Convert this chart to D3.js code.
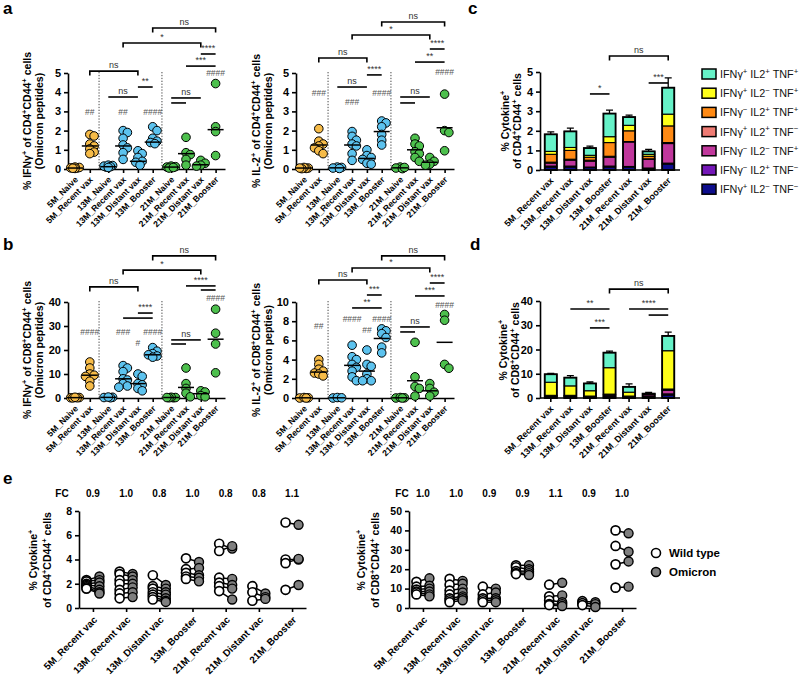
<!DOCTYPE html>
<html><head><meta charset="utf-8">
<script src="https://cdn.jsdelivr.net/npm/d3@7"></script>
<style>body{margin:0;background:#fff;}</style>
</head><body>
<script>
// ================= DATA =================
const scatterCats = ["5M_Naive","5M_Recent vax","13M_Naive","13M_Recent vax","13M_Distant vax","13M_Booster","21M_Naive","21M_Recent vax","21M_Distant vax","21M_Booster"];
const scatterGroup = [0,0,1,1,1,1,2,2,2,2];
const groupColors = ["#F6BB48","#5CC2EE","#4DC04D"];

// panel a, left: % IFNγ+ of CD4+CD44+ cells
const aIfng = [
  [0.05,0.08,0.1,0.03,0.06,0.04],
  [1.8,1.72,1.3,1.2,1.05,0.88,0.8],
  [0.1,0.15,0.2,0.18,0.12,0.08],
  [2.0,1.9,1.6,1.25,1.1,0.85,0.5],
  [0.95,0.8,0.6,0.4,0.35,0.2],
  [2.2,2.0,1.6,1.45,1.38,1.32],
  [0.1,0.15,0.05,0.12,0.08],
  [1.65,0.85,0.75,0.5,0.2],
  [0.45,0.3,0.2,0.15],
  [4.45,2.2,1.95,0.7]
];
const aIfngLine = [0.05,1.2,0.12,1.2,0.4,1.4,0.1,0.8,0.22,2.05];
const aIfngMarks = [{cat:1,text:"##",y:2.97},{cat:3,text:"##",y:2.97},{cat:5,text:"####",y:2.97},{cat:9,text:"####",y:5.0}];
const aIfngBrackets = [
  {from:5,to:9,y:7.34,label:"ns",ends:true},
  {from:3,to:8,y:6.56,label:"*",ends:true},
  {from:8,to:9,y:5.99,label:"****",ends:false},
  {from:7,to:9,y:5.36,label:"***",ends:false},
  {from:1,to:4,y:5.10,label:"ns",ends:true},
  {from:4,to:5,y:4.27,label:"**",ends:false},
  {from:2,to:4,y:3.75,label:"ns",ends:false},
  {from:6,to:8,y:3.70,label:"ns",ends:false},
  {from:6,to:7,y:3.44,label:"",ends:false}
];

// panel a, right: % IL-2+ of CD4+CD44+ cells
const aIl2 = [
  [0.05,0.03,0.08,0.02,0.05],
  [2.1,1.45,1.3,1.2,1.1,0.95,0.8],
  [0.1,0.05,0.08,0.03],
  [1.95,1.7,1.5,1.3,1.2,0.8,0.45],
  [1.0,0.7,0.6,0.5,0.3,0.25],
  [2.5,2.4,2.2,1.8,1.5,1.25],
  [0.1,0.05,0.02,0.08],
  [1.6,1.3,1.2,0.9,0.8,0.6,0.4],
  [0.6,0.4,0.25,0.2],
  [3.9,2.0,1.9,0.95]
];
const aIl2Line = [0.05,1.25,0.06,1.25,0.55,1.95,0.06,1.0,0.35,2.15];
const aIl2Marks = [{cat:1,text:"###",y:3.96},{cat:3,text:"###",y:3.49},{cat:5,text:"####",y:3.96},{cat:9,text:"####",y:5.05}];
const aIl2Brackets = [
  {from:5,to:9,y:7.66,label:"ns",ends:true},
  {from:3,to:8,y:6.98,label:"*",ends:true},
  {from:8,to:9,y:6.25,label:"****",ends:false},
  {from:1,to:4,y:5.78,label:"ns",ends:true},
  {from:7,to:9,y:5.57,label:"**",ends:false},
  {from:4,to:5,y:4.90,label:"****",ends:false},
  {from:2,to:4,y:4.27,label:"ns",ends:false},
  {from:6,to:8,y:3.75,label:"ns",ends:false},
  {from:6,to:7,y:3.44,label:"",ends:false}
];

// panel b, left: % IFNγ+ of CD8+CD44+ cells
const bIfng = [
  [0.1,0.2,0.1,0.05,0.3],
  [15,12.5,10,9.5,9,7,5],
  [0.2,0.3,0.1,0.4],
  [13.5,12.5,11,8,7.5,6,5,4.5],
  [10,9,6,5.5,4,3],
  [21,19.5,18.5,18,17.5,17],
  [0.1,0.2,0.3,0.1,0.2],
  [12.5,6,4,2,0.5],
  [3,2.5,1,0.5],
  [37,27,22.5,10.5]
];
const bIfngLine = [0.15,9.5,0.25,8,6,18,0.2,4.4,1.8,24.5];
const bIfngMarks = [{cat:1,text:"####",y:27.5},{cat:3,text:"###",y:27.5},{cat:4,text:"#",y:22.9},{cat:5,text:"####",y:27.5},{cat:9,text:"####",y:41.7}];
const bIfngBrackets = [
  {from:5,to:9,y:59.2,label:"ns",ends:true},
  {from:3,to:8,y:53.3,label:"*",ends:true},
  {from:1,to:4,y:46.3,label:"ns",ends:true},
  {from:7,to:9,y:46.7,label:"****",ends:false},
  {from:8,to:9,y:45.0,label:"",ends:false},
  {from:4,to:5,y:35.4,label:"****",ends:false},
  {from:3,to:5,y:33.3,label:"",ends:false},
  {from:6,to:8,y:24.2,label:"ns",ends:false},
  {from:6,to:7,y:22.5,label:"",ends:false}
];

// panel b, right: % IL-2+ of CD8+CD44+ cells
const bIl2 = [
  [0,0.02,0.05,0],
  [4.0,3.5,3.0,2.8,2.6,2.5,2.3],
  [0,0.05,0.02],
  [5.5,4.3,4.0,3.5,3.2,2.8,2.2,1.8],
  [5.0,3.5,3.3,2.5,2.0,1.8,1.8],
  [7.2,7.0,6.7,6.3,5.3,4.7],
  [0,0.02,0.05,0],
  [5.8,2.2,1.2,1.0,0.2],
  [1.5,1.0,0.6,0.2],
  [8.7,8.1,3.5,3.1]
];
const bIl2Line = [0.02,2.7,0.02,3.4,2.8,6.2,0.02,1.8,0.75,5.8];
const bIl2Marks = [{cat:1,text:"##",y:7.5},{cat:3,text:"####",y:8.23},{cat:4,text:"##",y:7.08},{cat:5,text:"####",y:8.23},{cat:9,text:"####",y:9.69}];
const bIl2Brackets = [
  {from:5,to:9,y:14.8,label:"ns",ends:true},
  {from:3,to:8,y:13.54,label:"*",ends:true},
  {from:1,to:4,y:12.29,label:"ns",ends:true},
  {from:8,to:9,y:11.98,label:"****",ends:false},
  {from:7,to:9,y:10.63,label:"***",ends:false},
  {from:4,to:5,y:10.73,label:"***",ends:false},
  {from:3,to:5,y:9.38,label:"**",ends:false},
  {from:6,to:8,y:7.4,label:"ns",ends:false},
  {from:6,to:7,y:6.88,label:"",ends:false}
];

// panels c / d: stacked cytokine combinations
const barCats = ["5M_Recent vax","13M_Recent vax","13M_Distant vax","13M_Booster","21M_Recent vax","21M_Distant vax","21M_Booster"];
const comboNames = ["IFNγ^+ IL2^+ TNF^+","IFNγ^+ IL2^- TNF^+","IFNγ^- IL2^+ TNF^+","IFNγ^+ IL2^+ TNF^-","IFNγ^- IL2^- TNF^+","IFNγ^- IL2^+ TNF^-","IFNγ^+ IL2^- TNF^-"];
const comboColors = ["#66F2C8","#FFFF1A","#FF8A14","#EE7B74","#C0379C","#7417B8","#0D0D8C"];
const cd4PPP = [0.87,0.82,0.37,1.18,0.42,0.15,1.35];
const cd4PNP = [0.15,0.15,0.10,0.30,0.28,0.10,0.60];
const cd4NPP = [0.40,0.45,0.15,0.70,0.55,0.13,0.85];
const cd4PPN = [0.05,0.05,0.05,0.05,0.02,0.02,0.05];
const cd4NNP = [0.15,0.30,0.30,0.45,1.25,0.45,1.00];
const cd4NPN = [0.05,0.05,0.03,0.05,0.03,0.02,0.05];
const cd4PNN = [0.15,0.15,0.12,0.15,0.15,0.08,0.30];
const cd4Err = [0.13,0.17,0.10,0.17,0.10,0.10,0.50];
const cd8PPP = [3.3,3.4,3.0,6.2,2.2,0.0,6.1];
const cd8PNP = [5.4,3.9,2.2,10.9,1.6,0.1,15.8];
const cd8NPP = [0.1,0.1,0.1,0.2,0.1,0.1,0.3];
const cd8PPN = [0.1,0.1,0.1,0.1,0.1,0.2,0.2];
const cd8NNP = [0.3,0.3,0.2,0.5,0.2,0.6,1.5];
const cd8NPN = [0.2,0.2,0.1,0.3,0.1,0.3,0.5];
const cd8PNN = [0.4,0.4,0.3,0.5,0.3,0.5,1.2];
const cd8Err = [0.3,0.8,0.6,0.6,1.2,0.5,1.6];
const cBrackets = [
  {from:3,to:6,y:5.82,label:"ns",ends:true},
  {from:5,to:6,y:4.44,label:"***",ends:false},
  {from:2,to:3,y:3.88,label:"*",ends:false}
];
const dBrackets = [
  {from:3,to:6,y:44.9,label:"ns",ends:true},
  {from:1,to:3,y:36.7,label:"**",ends:false},
  {from:4,to:6,y:36.7,label:"****",ends:false},
  {from:5,to:6,y:34.2,label:"",ends:false},
  {from:2,to:3,y:28.9,label:"***",ends:false}
];

// panel e: paired wild type vs omicron
const eCats = ["5M_Recent vac","13M_Recent vac","13M_Distant vac","13M_Booster","21M_Recent vac","21M_Distant vac","21M_Booster"];
const eCd4Wt = [
  [2.3,2.2,2.0,1.9,1.8,1.7,1.6],
  [3.0,2.8,2.3,2.0,1.5,1.2,0.8],
  [2.7,1.8,1.6,1.3,1.1,0.9,0.7],
  [4.1,3.2,2.9,2.6,2.4],
  [5.3,4.7,2.5,2.1,1.8,1.4],
  [1.8,1.3,0.6],
  [7.05,4.0,3.7,1.5]
];
const eCd4Om = [
  [2.6,2.3,2.1,1.8,1.5,1.3,1.2],
  [2.8,2.6,2.3,2.0,1.7,1.3,0.9],
  [1.9,1.6,1.3,1.1,0.8,0.6,0.5],
  [3.8,3.3,2.7,2.5,2.2],
  [4.9,5.1,2.4,1.9,1.6,0.7],
  [1.2,0.9,0.75],
  [6.86,4.0,4.05,1.9]
];
const eCd8Wt = [
  [13.5,11,9.5,8.5,8,7],
  [15,12,9,7,5,4,3],
  [11,7,5,4,3],
  [22,21,19,18,17.5],
  [12,6,4,2,1.5],
  [3.5,2.5,1.5],
  [40,32,22.5,10.5]
];
const eCd8Om = [
  [15.3,11.5,10,8.5,7,6],
  [14,12.5,10,8,6,5,4],
  [10,8,5,4,3],
  [22,20,19,18,17],
  [13,6.5,3,2,1],
  [3,2,0.5],
  [38.5,29,24,11]
];
const eCd4Fc = ["0.9","1.0","0.8","1.0","0.8","0.8","1.1"];
const eCd8Fc = ["1.0","1.0","0.9","0.9","1.1","0.9","1.0"];

// ================= DRAWING =================
const FONT = '"Liberation Sans", Arial, Helvetica, sans-serif';
const svg = d3.select('body').append('svg').attr('width',800).attr('height',678)
  .style('font-family',FONT).style('background','#fff');
const fmtInt = d3.format('d');

function rich(sel, str, fs){
  const parts = str.split(/(\^[+-])/).filter(p=>p!=='');
  let pend = 0;
  parts.forEach(p=>{
    if(p[0]==='^'){
      sel.append('tspan').attr('dy',pend - fs*0.38).attr('font-size',fs*0.72).text(p[1]==='+'?'+':'−');
      pend = fs*0.38;
    } else {
      sel.append('tspan').attr('dy',pend).attr('font-size',fs).text(p);
      pend = 0;
    }
  });
}
function yLabel(lines, xs, yc, fs){
  lines.forEach((l,i)=>{
    const t = svg.append('text').attr('transform',`translate(${xs[i]},${yc}) rotate(-90)`)
      .attr('text-anchor','middle').attr('font-weight','bold').attr('font-size',fs).attr('fill','#000');
    rich(t,l,fs);
  });
}
function styleAxis(g, fs){
  g.attr('font-family',FONT).attr('font-size',fs);
  g.selectAll('path,line').attr('stroke','#000').attr('stroke-width',1.6);
  g.selectAll('text').attr('fill','#000').attr('font-weight','bold');
}
function drawBrackets(g, list, xf, y){
  list.forEach(b=>{
    const x1 = xf(b.from), x2 = xf(b.to), yy = y(b.y);
    const d = b.ends ? `M${x1},${yy+4.5}V${yy}H${x2}V${yy+4.5}` : `M${x1},${yy}H${x2}`;
    g.append('path').attr('d',d).attr('fill','none').attr('stroke','#000').attr('stroke-width',1.6);
    if(b.label) g.append('text').attr('x',(x1+x2)/2).attr('y',yy-3).attr('text-anchor','middle')
      .attr('font-size',9).attr('fill','#333').text(b.label);
  });
}
// deterministic horizontal spreading of overlapping points (layout only)
function swarm(vals, ypix, r){
  const order = vals.map((v,i)=>i).sort((a,b)=>vals[b]-vals[a]);
  const placed = [], offs = new Array(vals.length).fill(0);
  const dmin = r*1.05, step = r*0.5, lim = r*1.35;
  order.forEach(i=>{
    const py = ypix(vals[i]);
    let best = null, bestD = -1;
    for(let k=0;k<20;k++){
      const c = k===0 ? 0 : (k%2 ? 1 : -1)*Math.ceil(k/2)*step;
      if(Math.abs(c) > lim) break;
      const md = placed.length ? d3.min(placed, p=>Math.hypot(p.x-c,p.y-py)) : 99;
      if(md >= dmin){ best = c; break; }
      if(md > bestD){ bestD = md; best = c; }
    }
    offs[i] = best; placed.push({x:best,y:py});
  });
  return offs;
}

function scatterPanel(cfg, series, lineVals, marks, brackets){
  const g = svg.append('g');
  const unit = 14.8;
  const slots = scatterCats.map((c,i)=> i + scatterGroup[i]*0.25);
  const x = d3.scaleLinear().domain([(cfg.x0-cfg.p0)/unit, 150/unit]).range([cfg.x0, cfg.p0+150]);
  const y = d3.scaleLinear().domain([0,cfg.ymax]).range([cfg.y0,cfg.yTop]);
  [(slots[1]+slots[2])/2, (slots[5]+slots[6])/2].forEach(s=>{
    g.append('line').attr('x1',x(s)).attr('x2',x(s)).attr('y1',cfg.y0).attr('y2',cfg.yTop-1)
      .attr('stroke','#333').attr('stroke-width',0.9).attr('stroke-dasharray','1.3,1.6');
  });
  const gy = g.append('g').attr('transform',`translate(${cfg.x0},0)`)
    .call(d3.axisLeft(y).tickValues(cfg.ticks).tickFormat(fmtInt).tickSize(4).tickSizeOuter(0));
  styleAxis(gy, 11);
  const gx = g.append('g').attr('transform',`translate(0,${cfg.y0})`)
    .call(d3.axisBottom(x).tickValues(slots).tickFormat((d,i)=>scatterCats[i]).tickSize(4).tickSizeOuter(0));
  styleAxis(gx, 8.6);
  gx.selectAll('text').attr('x',0).attr('y',0).attr('dy','0.35em')
    .attr('transform','translate(1,9) rotate(-45)').attr('text-anchor','end');
  const r = 4.3;
  series.forEach((vals,i)=>{
    const offs = swarm(vals, y, r);
    g.selectAll(null).data(vals).join('circle')
      .attr('cx',(d,j)=>x(slots[i])+offs[j]).attr('cy',d=>y(d)).attr('r',r)
      .attr('fill',groupColors[scatterGroup[i]]).attr('stroke','#000').attr('stroke-width',1);
    g.append('line').attr('x1',x(slots[i])-8).attr('x2',x(slots[i])+8)
      .attr('y1',y(lineVals[i])).attr('y2',y(lineVals[i])).attr('stroke','#000').attr('stroke-width',1.5);
  });
  marks.forEach(m=>{
    g.append('text').attr('x',x(slots[m.cat])).attr('y',y(m.y)).attr('dy','0.35em')
      .attr('text-anchor','middle').attr('font-size',8.5).attr('fill','#555').text(m.text);
  });
  drawBrackets(g, brackets, i=>x(slots[i]), y);
}

function barPanel(cfg, layers, errs, brackets){
  const g = svg.append('g');
  const x = d3.scaleBand().domain(barCats).range([cfg.x0+1, cfg.x0+138]).paddingInner(0.38).paddingOuter(0.19);
  const y = d3.scaleLinear().domain([0,cfg.ymax]).range([cfg.y0,cfg.yTop]);
  const keys = d3.range(layers.length).reverse().map(String);
  const table = barCats.map((c,i)=>{ const row={cat:c}; layers.forEach((arr,k)=>row[k]=arr[i]); return row; });
  const stacked = d3.stack().keys(keys)(table);
  stacked.forEach(layer=>{
    const k = +layer.key;
    g.selectAll(null).data(layer).join('rect')
      .attr('x',d=>x(d.data.cat)).attr('width',x.bandwidth())
      .attr('y',d=>y(d[1])).attr('height',d=>Math.max(0,y(d[0])-y(d[1])))
      .attr('fill',comboColors[k]).attr('stroke','#000').attr('stroke-width',1.1);
  });
  const totals = table.map(r=>d3.sum(layers.map((a,k)=>r[k])));
  totals.forEach((t,i)=>{
    const cx = x(barCats[i]) + x.bandwidth()/2;
    g.append('rect').attr('x',x(barCats[i])).attr('width',x.bandwidth()).attr('y',y(t)).attr('height',y(0)-y(t))
      .attr('fill','none').attr('stroke','#000').attr('stroke-width',1.8);
    g.append('path').attr('d',`M${cx},${y(t)}V${y(t+errs[i])}M${cx-3.5},${y(t+errs[i])}H${cx+3.5}`)
      .attr('stroke','#000').attr('stroke-width',1.3).attr('fill','none');
  });
  const gy = g.append('g').attr('transform',`translate(${cfg.x0},0)`)
    .call(d3.axisLeft(y).tickValues(cfg.ticks).tickFormat(fmtInt).tickSize(4).tickSizeOuter(0));
  styleAxis(gy, 11);
  const gx = g.append('g').attr('transform',`translate(0,${cfg.y0})`)
    .call(d3.axisBottom(x).tickSize(4).tickSizeOuter(0));
  styleAxis(gx, 9);
  gx.select('.domain').attr('d',`M${cfg.x0},0H${cfg.x0+140}`);
  gx.selectAll('text').attr('x',0).attr('y',0).attr('dy','0.35em')
    .attr('transform','translate(1,9) rotate(-45)').attr('text-anchor','end');
  drawBrackets(g, brackets, i=>x(barCats[i])+x.bandwidth()/2, y);
}

function pairPanel(cfg, wt, om, fc){
  const g = svg.append('g');
  const x = d3.scalePoint().domain(eCats).range([cfg.x0, cfg.x0+227]).padding(0.42);
  const y = d3.scaleLinear().domain([0,cfg.ymax]).range([cfg.y0,cfg.yTop]);
  const gy = g.append('g').attr('transform',`translate(${cfg.x0},0)`)
    .call(d3.axisLeft(y).tickValues(cfg.ticks).tickFormat(fmtInt).tickSize(4).tickSizeOuter(0));
  styleAxis(gy, 10.5);
  const gx = g.append('g').attr('transform',`translate(0,${cfg.y0})`)
    .call(d3.axisBottom(x).tickSize(4).tickSizeOuter(0));
  styleAxis(gx, 9.8);
  gx.selectAll('text').attr('x',0).attr('y',0).attr('dy','0.35em')
    .attr('transform','translate(2,10) rotate(-45)').attr('text-anchor','end');
  const dx = 6.5;
  eCats.forEach((c,i)=>{
    const cx = x(c);
    wt[i].forEach((v,j)=>{
      g.append('line').attr('x1',cx-dx).attr('x2',cx+dx).attr('y1',y(v)).attr('y2',y(om[i][j]))
        .attr('stroke','#000').attr('stroke-width',1.5);
    });
    g.selectAll(null).data(om[i]).join('circle').attr('cx',cx+dx).attr('cy',d=>y(d)).attr('r',4.5)
      .attr('fill','#7f7f7f').attr('stroke','#000').attr('stroke-width',1.4);
    g.selectAll(null).data(wt[i]).join('circle').attr('cx',cx-dx).attr('cy',d=>y(d)).attr('r',4.5)
      .attr('fill','#fff').attr('stroke','#000').attr('stroke-width',1.7);
    g.append('text').attr('x',cx).attr('y',cfg.fcY).attr('text-anchor','middle')
      .attr('font-size',10).attr('font-weight','bold').text(fc[i]);
  });
  g.append('text').attr('x',cfg.fcX).attr('y',cfg.fcY).attr('text-anchor','middle')
    .attr('font-size',10).attr('font-weight','bold').text('FC');
}

// ---- panels ----
scatterPanel({x0:68,p0:75,y0:169,yTop:73,ymax:5,ticks:[0,1,2,3,4,5]}, aIfng, aIfngLine, aIfngMarks, aIfngBrackets);
scatterPanel({x0:296,p0:304,y0:169,yTop:73,ymax:5,ticks:[0,1,2,3,4,5]}, aIl2, aIl2Line, aIl2Marks, aIl2Brackets);
scatterPanel({x0:68,p0:75,y0:398,yTop:302,ymax:40,ticks:[0,10,20,30,40]}, bIfng, bIfngLine, bIfngMarks, bIfngBrackets);
scatterPanel({x0:296,p0:304,y0:398,yTop:302,ymax:10,ticks:[0,2,4,6,8,10]}, bIl2, bIl2Line, bIl2Marks, bIl2Brackets);

barPanel({x0:540,y0:170,yTop:72,ymax:5,ticks:[0,1,2,3,4,5]},
  [cd4PPP,cd4PNP,cd4NPP,cd4PPN,cd4NNP,cd4NPN,cd4PNN], cd4Err, cBrackets);
barPanel({x0:540,y0:398,yTop:301,ymax:40,ticks:[0,10,20,30,40]},
  [cd8PPP,cd8PNP,cd8NPP,cd8PPN,cd8NNP,cd8NPN,cd8PNN], cd8Err, dBrackets);

pairPanel({x0:79,y0:608,yTop:511,ymax:8,ticks:[0,2,4,6,8],fcX:62,fcY:497}, eCd4Wt, eCd4Om, eCd4Fc);
pairPanel({x0:409,y0:608,yTop:511,ymax:50,ticks:[0,10,20,30,40,50],fcX:402,fcY:497}, eCd8Wt, eCd8Om, eCd8Fc);

// axis titles
yLabel(["% IFNγ^+ of CD4^+CD44^+ cells","(Omicron peptides)"],[31,43],121,10.5);
yLabel(["% IL-2^+ of CD4^+CD44^+ cells","(Omicron peptides)"],[260,272],121,10.5);
yLabel(["% IFNγ^+ of CD8^+CD44^+ cells","(Omicron peptides)"],[31,43],350,10.5);
yLabel(["% IL-2^+ of CD8^+CD44^+ cells","(Omicron pepties)"],[260,272],350,10.5);
yLabel(["% Cytokine^+","of CD4^+CD44^+ cells"],[509,521],121,10.5);
yLabel(["% Cytokine^+","of CD8^+CD44^+ cells"],[507,519],350,10.5);
yLabel(["% Cytokine^+","of CD4^+CD44^+ cells"],[37,51],560,10.5);
yLabel(["% Cytokine^+","of CD8^+CD44^+ cells"],[365,379],560,10.5);

// legend c
comboNames.forEach((n,i)=>{
  const yy = 74 + i*19.2;
  svg.append('rect').attr('x',702).attr('y',yy-5).attr('width',14).attr('height',10)
    .attr('fill',comboColors[i]).attr('stroke','#000').attr('stroke-width',1.5);
  const t = svg.append('text').attr('x',720).attr('y',yy+4).attr('font-size',10.8).attr('fill','#111');
  rich(t,n,10.8);
});
// legend e
[["Wild type","#fff"],["Omicron","#7f7f7f"]].forEach((d,i)=>{
  const yy = 553 + i*19;
  svg.append('circle').attr('cx',656).attr('cy',yy).attr('r',4.5).attr('fill',d[1]).attr('stroke','#000').attr('stroke-width',1.6);
  svg.append('text').attr('x',669).attr('y',yy+4).attr('font-size',11.5).attr('font-weight','bold').text(d[0]);
});

// panel letters
[["a",3,14],["b",3,250],["c",468,14],["d",470,250],["e",3,484]].forEach(p=>{
  svg.append('text').attr('x',p[1]).attr('y',p[2]).attr('font-size',17).attr('font-weight','bold').text(p[0]);
});
</script>
</body></html>
